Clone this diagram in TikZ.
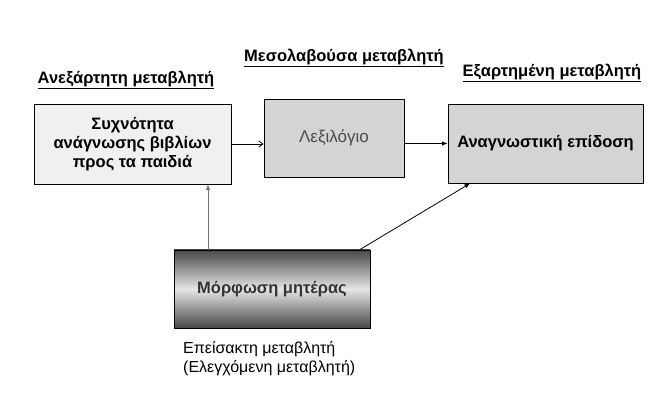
\documentclass[tikz,border=0pt]{standalone}
\usepackage{fontspec}
\setmainfont{Liberation Sans}
\usetikzlibrary{arrows.meta}
\tikzset{
  varbox/.style={draw=black,line width=0.9pt,minimum width=#1,inner sep=0pt,align=center,font=\bfseries\fontsize{16.5}{19}\selectfont},
  vartitle/.style={font=\bfseries\fontsize{16.5}{19}\selectfont,inner sep=0pt},
  arr/.style={-{Latex[length=5.5pt,width=4.5pt]},line width=0.8pt}
}
\begin{document}
\begin{tikzpicture}[x=1pt,y=-1pt]
  \useasboundingbox (0,0) rectangle (663,419);
  % titles
  \node[vartitle] (tind) at (126,80) {\underline{Ανεξάρτητη μεταβλητή}};
  \node[vartitle] (tmed) at (344,58) {\underline{Μεσολαβούσα μεταβλητή}};
  \node[vartitle] (tdep) at (552,73) {\underline{Εξαρτημένη μεταβλητή}};
  % boxes
  \node[varbox=197pt,minimum height=80pt,fill=black!6] (freq) at (132.5,144) {Συχνότητα\\ανάγνωσης βιβλίων\\προς τα παιδιά};
  \node[varbox=140pt,minimum height=78pt,fill=black!17,text=black!70,font=\fontsize{17}{19}\selectfont] (vocab) at (334,138) {Λεξιλόγιο};
  \node[varbox=195pt,minimum height=79pt,fill=black!17] (read) at (545.5,143.5) {Αναγνωστική επίδοση};
  \node[varbox=196pt,minimum height=78pt,top color=black!72,bottom color=black!72,middle color=black!10,text=black!80] (edu) at (272,289) {Μόρφωση μητέρας};
  % label under the confounder
  \node[anchor=north west,align=left,inner sep=0pt,font=\fontsize{16}{19}\selectfont] (conf) at (183,341) {Επείσακτη μεταβλητή\\(Ελεγχόμενη μεταβλητή)};
  % connectors
  \draw[-{Straight Barb[length=4pt,width=6pt]},line width=0.8pt] (freq.east) -- (freq.east -| vocab.west);
  \draw[arr] (read.west -| vocab.east) -- (read.west);
  \draw[arr,draw=black!55] ([xshift=-64pt]edu.north) -- ([xshift=-64pt]edu.north |- freq.south);
  \draw[arr] ([xshift=88pt]edu.north) -- ([xshift=-75.5pt]read.south);
\end{tikzpicture}
\end{document}
